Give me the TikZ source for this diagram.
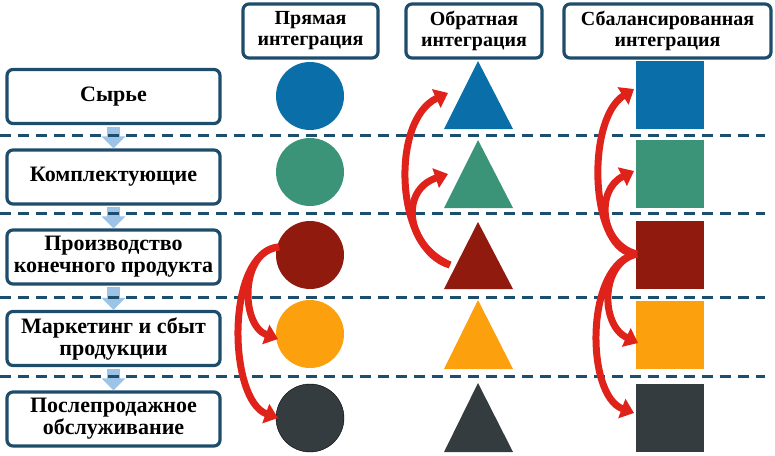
\documentclass[tikz,border=0pt]{standalone}
\usepackage{fontspec}
\setmainfont{Liberation Serif}
\usetikzlibrary{arrows.meta}
\definecolor{boxline}{HTML}{1E4D6B}
\definecolor{dashcol}{HTML}{1C4E6E}
\definecolor{downarr}{HTML}{9DC3E6}
\definecolor{redarr}{HTML}{E0231A}
\definecolor{cblue}{HTML}{0A6EA8}
\definecolor{cgreen}{HTML}{3C9478}
\definecolor{cred}{HTML}{911A0E}
\definecolor{corange}{HTML}{FDA00E}
\definecolor{cdark}{HTML}{353C3F}
\begin{document}
\begin{tikzpicture}[x=1pt,y=-1pt,
  stagebox/.style={draw=boxline, line width=3.2pt, rounded corners=6pt, fill=white,
    minimum width=213pt, minimum height=54pt, inner sep=0pt, align=center,
    font=\bfseries\fontsize{22}{22}\selectfont},
  headbox/.style={draw=boxline, line width=3.2pt, rounded corners=6pt, fill=white,
    minimum height=54pt, inner sep=0pt, align=center,
    font=\bfseries\fontsize{20}{21}\selectfont},
  dot/.style={circle, minimum size=68pt, inner sep=0pt},
  sq/.style={rectangle, minimum width=68pt, minimum height=68pt, inner sep=0pt},
  rowline/.style={draw=dashcol, line width=3pt, dash pattern=on 11pt off 7pt},
  downarrow/.style={draw=downarr, line width=13pt, -{Triangle[length=12pt,width=23pt]},
    shorten <=1.5pt},
  redarrow/.style={draw=redarr, line width=7pt, -{Triangle[length=13pt,width=20pt]}}
]
\useasboundingbox (0,0) rectangle (775,455);

% stage boxes
\node[stagebox] (b1) at (113.5,96.5) {Сырье};
\node[stagebox] (b2) at (113.5,177) {Комплектующие};
\node[stagebox] (b3) at (113.5,257) {Производство\\конечного продукта};
\node[stagebox] (b4) at (113.5,338.5) {Маркетинг и сбыт\\продукции};
\node[stagebox] (b5) at (113.5,419) {Послепродажное\\обслуживание};

% down arrows
\draw[downarrow] (b1.south) -- (b2.north);
\draw[downarrow] (b2.south) -- (b3.north);
\draw[downarrow] (b3.south) -- (b4.north);
\draw[downarrow] (b4.south) -- (b5.north);

% dashed row separators
\coordinate (l1a) at (0,135); \coordinate (l1b) at (765,135);
\coordinate (l2a) at (0,213); \coordinate (l2b) at (765,213);
\coordinate (l3a) at (0,297); \coordinate (l3b) at (765,297);
\coordinate (l4a) at (0,376); \coordinate (l4b) at (765,376);
\draw[rowline] (l1a) -- (l1b);
\draw[rowline] (l2a) -- (l2b);
\draw[rowline] (l3a) -- (l3b);
\draw[rowline] (l4a) -- (l4b);

% headers
\node[headbox, minimum width=135pt] (h1) at (310.5,31) {Прямая\\интеграция};
\node[headbox, minimum width=136pt] (h2) at (474,31) {Обратная\\интеграция};
\node[headbox, minimum width=207pt] (h3) at (667.5,31) {Сбалансированная\\интеграция};

% circles
\node[dot, fill=cblue] (c1) at (310,96) {};
\node[dot, fill=cgreen] (c2) at (310,172) {};
\node[dot, fill=cred] (c3) at (310,255) {};
\node[dot, fill=corange] (c4) at (310,334) {};
\node[dot, fill=cdark, draw=black, line width=0.4pt] (c5) at (310,418) {};

% triangles
\fill[cblue] (444,129) -- (478,61) -- (513,129) -- cycle;
\fill[cgreen] (444,208) -- (478,140) -- (513,208) -- cycle;
\fill[cred] (444,289) -- (478,222) -- (513,289) -- cycle;
\fill[corange] (444,369) -- (478,300) -- (513,369) -- cycle;
\fill[cdark] (444,452) -- (478,383) -- (513,452) -- cycle;

% squares
\node[sq, fill=cblue] (s1) at (670,95) {};
\node[sq, fill=cgreen] (s2) at (670,174) {};
\node[sq, fill=cred] (s3) at (670,255) {};
\node[sq, fill=corange] (s4) at (670,335) {};
\node[sq, fill=cdark] (s5) at (670,418) {};

% forward integration arrows
\coordinate (fa) at (279,247);
\coordinate (fb) at (278,339);
\coordinate (fc) at (278,418);
\draw[redarrow] (fa) .. controls (240,250) and (240,325) .. (fb);
\draw[redarrow] (fa) .. controls (225,252) and (228,400) .. (fc);

% backward integration arrows
\coordinate (ba) at (450,265);
\coordinate (bb) at (448,93);
\coordinate (bc) at (448,174);
\draw[redarrow] (ba) .. controls (395,250) and (390,120) .. (bb);
\draw[redarrow] (ba) .. controls (405,245) and (400,190) .. (bc);

% balanced integration arrows
\coordinate (sa) at (637,254);
\coordinate (sb) at (634,89);
\coordinate (sc) at (634,171);
\coordinate (sd) at (638,343);
\coordinate (se) at (634,413);
\draw[redarrow] (sa) .. controls (590,255) and (585,120) .. (sb);
\draw[redarrow] (sa) .. controls (600,245) and (595,190) .. (sc);
\draw[redarrow] (sa) .. controls (600,262) and (600,325) .. (sd);
\draw[redarrow] (sa) .. controls (585,262) and (585,395) .. (se);
\end{tikzpicture}
\end{document}
